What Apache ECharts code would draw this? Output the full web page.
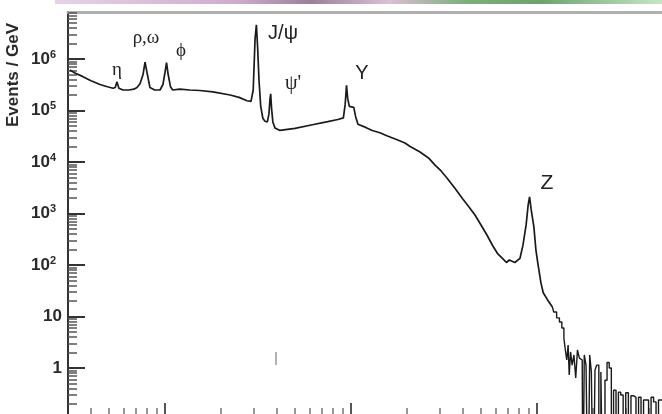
<!DOCTYPE html>
<html><head><meta charset="utf-8">
<script src="https://cdn.jsdelivr.net/npm/echarts@6/dist/echarts.min.js"></script>
<style>html,body{margin:0;padding:0;background:#fff}#c{width:662px;height:414px}</style>
</head><body><div id="c"></div><script>
// Dimuon invariant mass (GeV) and Events / GeV
const massLow = [0.308,0.33,0.36,0.40,0.447,0.49,0.526,0.540,0.552,0.565,0.595,0.64,0.68,0.707,0.734,0.762,0.781,0.80,0.83,0.88,0.94,0.975,1.00,1.019,1.04,1.07,1.10,1.20,1.36,1.54,1.81,2.24,2.50,2.76,2.90,2.98,3.05,3.10,3.15,3.20,3.27,3.36,3.45,3.55,3.62,3.67,3.70,3.74,3.80,3.90,4.15,5.0,6.2,7.5,8.5,9.1,9.3,9.46,9.6,9.8,10.0,10.35,10.6,10.9,12.0,13.0,14.3,15.7,17.7,19.5,20.8,23.5,26.1,28.3,30.5,32.8,36.2,40.0,43.1,46.4,50.0,53.8,57.9,61.6,65.6,68.5,71.0,76.0,81.0,84.0,87.4,89.6,91.2,93.0,96.2,98.6,101,105,108,114,121];
const eventsLow = [6.1e5,5.3e5,4.6e5,3.8e5,3.2e5,2.9e5,2.7e5,2.8e5,3.6e5,2.7e5,2.5e5,2.5e5,2.6e5,2.8e5,3.3e5,5.0e5,8.7e5,5.5e5,2.8e5,2.5e5,2.5e5,3.2e5,5.5e5,8.5e5,5.0e5,2.9e5,2.5e5,2.6e5,2.5e5,2.45e5,2.3e5,2.0e5,1.8e5,1.55e5,1.5e5,2.5e5,2.5e6,4.6e6,1.6e6,4.0e5,1.2e5,7.0e4,6.2e4,6.0e4,8.5e4,1.7e5,2.1e5,1.1e5,6.0e4,4.6e4,4.1e4,4.5e4,5.3e4,6.1e4,6.7e4,7.2e4,1.3e5,3.1e5,1.7e5,1.2e5,1.25e5,1.15e5,7.5e4,5.4e4,4.7e4,4.1e4,3.7e4,3.2e4,2.7e4,2.34e4,2.0e4,1.56e4,1.2e4,8.7e3,6.7e3,4.9e3,3.1e3,1.9e3,1.34e3,935,598,383,234,164,131,112,125,112,135,240,600,1460,2100,1200,550,200,109,45,29,21,15.3];
const massTail = [121,125,130,134,138,141,143,146,148,150,153,156,160,163,167,171,175,178,181,186,190,194,198,203,207,212,218,223,229,235,241,248,254,262,270,278,286,295,305,315,325,335,346,357,368,380,392,404,417,430,443,457,470];
const eventsTail = [15.3,12.2,9.4,7.8,6.0,3.8,2.24,1.43,2.8,0.73,2.05,1.14,1.79,0.64,2.24,1.56,1.43,0,1.79,1.14,0,1.79,0.84,0,0.91,1.14,0,0.84,0,0.58,1.28,1.0,0,0.37,0,0.34,0.3,0,0.33,0,0.29,0.27,0,0.27,0,0.24,0.24,0,0.27,0.22,0,0.24,0.24];
const yMajorTicks = [1,10,100,1e3,1e4,1e5,1e6];
const yTickBase = ['1','10','10','10','10','10','10'];
const yTickExp = ['','','2','3','4','5','6'];
const xMajorTicks = [1,10,100];
const minorMultipliers = [2,3,4,5,6,7,8,9];
const peakNames = ['η','ρ,ω','ϕ','J/ψ',"ψ'",'Υ','Z'];
const yTitle = 'Events / GeV';

const L = v => Math.log10(v);
const X_MIN = -0.5215, X_MAX = 2.672, Y_MIN = -0.893, Y_MAX = 6.913;
const inX = v => v >= X_MIN && v <= X_MAX;
const inY = v => v >= Y_MIN && v <= Y_MAX;
const xMinor = [], yMinor = [];
[0.1,1,10,100].forEach(d => minorMultipliers.forEach(k => { const t = L(k*d); if (inX(t)) xMinor.push(t); }));
[0.1,1,10,100,1e3,1e4,1e5,1e6].forEach(d => minorMultipliers.forEach(k => { const t = L(k*d); if (inY(t)) yMinor.push(t); }));
const toPt = (m, v) => [L(m), v > 0 ? L(v) : Y_MIN - 2];

const chart = echarts.init(document.getElementById('c'), null, {renderer:'canvas'});
const baseX = {type:'value', min:X_MIN, max:X_MAX, splitLine:{show:false}, axisLabel:{show:false}};
const baseY = {type:'value', min:Y_MIN, max:Y_MAX, splitLine:{show:false}};
const FF = '"Liberation Sans", Arial, sans-serif';
const peakPos = [[117,70,'serif',19],[146,38,'serif',19],[181,51,'serif',19],[283,33,'sans',20],[293,84,'serif',20],[362,73,'sans',20],[547,183,'sans',21]];
const graphics = peakNames.map((n,i) => ({type:'text', x:peakPos[i][0], y:peakPos[i][1], silent:true,
  style:{text:n, textAlign:'center', textVerticalAlign:'middle', fill:'#222',
    font: peakPos[i][3] + 'px ' + (peakPos[i][2]==='serif' ? '"Liberation Serif", serif' : '"Liberation Sans", sans-serif')}}));
graphics.push({type:'text', x:13, y:75, rotation:Math.PI/2, silent:true,
  style:{text:yTitle, textAlign:'center', textVerticalAlign:'middle', fill:'#2a2a2a', font:'bold 17px "Liberation Sans", sans-serif'}});
graphics.push({type:'rect', shape:{x:55, y:0, width:607, height:4}, silent:true,
  style:{opacity:0.8, fill:new echarts.graphic.LinearGradient(0,0,1,0,[
    {offset:0,color:'#e0c8e0'},{offset:0.3,color:'#c098c0'},{offset:0.42,color:'#806080'},{offset:0.55,color:'#d0b0c8'},
    {offset:0.68,color:'#5a9a5a'},{offset:0.8,color:'#4a8a4a'},{offset:1,color:'#b8e0b8'}])}});
graphics.push({type:'line', shape:{x1:276, y1:352, x2:276, y2:365}, silent:true, style:{stroke:'#999', lineWidth:1.5}});

chart.setOption({
  animation:false,
  backgroundColor:'#fff',
  grid:{left:68, right:0, top:12, bottom:0, containLabel:false, outerBoundsMode:'none'},
  xAxis:[
    Object.assign({}, baseX, {position:'bottom', axisLine:{show:false, onZero:false},
      axisTick:{show:true, inside:true, length:11, customValues:xMajorTicks.map(L), lineStyle:{color:'#555', width:2}}}),
    Object.assign({}, baseX, {position:'bottom', axisLine:{show:false, onZero:false},
      axisTick:{show:true, inside:true, length:6, customValues:xMinor, lineStyle:{color:'#777', width:1.5}}}),
    Object.assign({}, baseX, {position:'top', axisLine:{show:true, onZero:false, lineStyle:{color:'#b0b0b0', width:3}},
      axisTick:{show:false}})
  ],
  yAxis:[
    Object.assign({}, baseY, {position:'left', axisLine:{show:true, onZero:false, lineStyle:{color:'#333', width:2}},
      axisTick:{show:true, inside:true, length:17, customValues:yMajorTicks.map(L), lineStyle:{color:'#333', width:2}},
      axisLabel:{customValues:yMajorTicks.map(L), margin:6,
        formatter:v => { const i = Math.round(v); return yTickExp[i] ? '{b|' + yTickBase[i] + '}{s|' + yTickExp[i] + '}' : '{b|' + yTickBase[i] + '}'; },
        rich:{
          b:{fontFamily:FF, fontWeight:'bold', fontSize:17, color:'#2a2a2a', lineHeight:20},
          s:{fontFamily:FF, fontWeight:'bold', fontSize:11, color:'#2a2a2a', lineHeight:12, verticalAlign:'top', padding:[0,6,0,0]}
        }}}),
    Object.assign({}, baseY, {position:'left', axisLine:{show:false, onZero:false},
      axisTick:{show:true, inside:true, length:9, customValues:yMinor, lineStyle:{color:'#555', width:1.5}},
      axisLabel:{show:false}})
  ],
  series:[
    {type:'line', xAxisIndex:0, yAxisIndex:0, symbol:'none', clip:true,
      lineStyle:{color:'#1a1a1a', width:1.7}, data:massLow.map((m,i) => toPt(m, eventsLow[i]))},
    {type:'line', xAxisIndex:0, yAxisIndex:0, symbol:'none', clip:true, step:'middle',
      lineStyle:{color:'#1a1a1a', width:1.4}, data:massTail.map((m,i) => toPt(m, eventsTail[i]))}
  ],
  graphic:graphics
});
</script></body></html>
